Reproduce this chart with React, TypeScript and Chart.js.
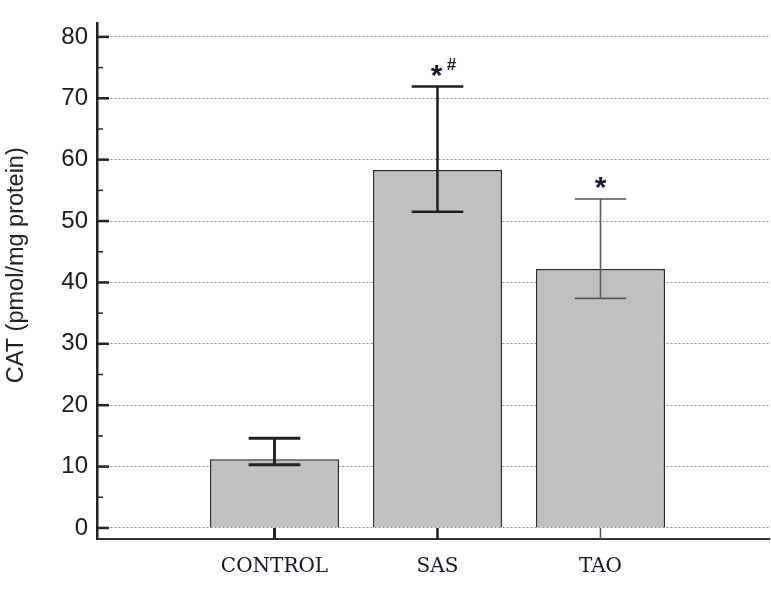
import React, { useEffect, useRef } from 'react';
import { Chart, registerables } from 'chart.js';

Chart.register(...registerables);

const categories = ['CONTROL', 'SAS', 'TAO'];
const means = [11.2, 58.3, 42.2];
const upperErr = [14.6, 71.9, 53.6];
const lowerErr = [10.3, 51.5, 37.4];
const markMain = ['', '*', '*'];
const markSup = ['', '#', ''];
const yMajorTicks = [0, 10, 20, 30, 40, 50, 60, 70, 80];
const yMinorTicks = [5, 15, 25, 35, 45, 55, 65, 75];
const yTitle = 'CAT (pmol/mg protein)';

const errColors = ['#222222', '#1e1e1e', '#5a5a5a'];
const errWidths = [3, 2.5, 1.6];

const overlay = {
  id: 'overlay',
  afterDatasetsDraw(chart: any) {
    const { ctx, chartArea, scales } = chart;
    const y = scales.y;
    const meta = chart.getDatasetMeta(0);
    ctx.save();
    meta.data.forEach((bar: any, i: number) => {
      const { x, width } = bar.getProps(['x', 'width'], true);
      const top = y.getPixelForValue(upperErr[i]);
      const bot = y.getPixelForValue(lowerErr[i]);
      const half = width * 0.2;
      ctx.strokeStyle = errColors[i];
      ctx.lineWidth = errWidths[i];
      ctx.setLineDash([]);
      ctx.beginPath();
      ctx.moveTo(x, top);
      ctx.lineTo(x, bot);
      ctx.moveTo(x - half, top);
      ctx.lineTo(x + half, top);
      ctx.moveTo(x - half, bot);
      ctx.lineTo(x + half, bot);
      ctx.stroke();
      // x-axis inward tick
      ctx.beginPath();
      ctx.moveTo(x, chartArea.bottom);
      ctx.lineTo(x, y.getPixelForValue(0));
      ctx.stroke();
      // significance marks
      ctx.fillStyle = '#1c1c2c';
      ctx.textBaseline = 'alphabetic';
      ctx.textAlign = 'center';
      if (markMain[i]) {
        ctx.font = 'bold 30px "Liberation Sans", Arial, sans-serif';
        ctx.fillText(markMain[i], markSup[i] ? x - 1 : x, top - 2);
      }
      if (markSup[i]) {
        ctx.font = 'bold 17px "Liberation Sans", Arial, sans-serif';
        ctx.fillText(markSup[i], x + 14, top - 17);
      }
    });
    ctx.restore();
  },
  afterDraw(chart: any) {
    const { ctx, chartArea, scales } = chart;
    const y = scales.y;
    ctx.save();
    ctx.strokeStyle = '#222222';
    yMajorTicks.forEach((v) => {
      const py = y.getPixelForValue(v);
      ctx.lineWidth = 2.5;
      ctx.beginPath();
      ctx.moveTo(chartArea.left, py);
      ctx.lineTo(chartArea.left + 12, py);
      ctx.stroke();
    });
    yMinorTicks.forEach((v) => {
      const py = y.getPixelForValue(v);
      ctx.lineWidth = 1.5;
      ctx.beginPath();
      ctx.moveTo(chartArea.left, py);
      ctx.lineTo(chartArea.left + 6, py);
      ctx.stroke();
    });
    // y-axis title
    ctx.translate(17, (chartArea.top + chartArea.bottom) / 2 - 16);
    ctx.rotate(-Math.PI / 2);
    ctx.fillStyle = '#222222';
    ctx.font = '23.5px "Liberation Sans", Arial, sans-serif';
    ctx.textAlign = 'center';
    ctx.textBaseline = 'middle';
    ctx.fillText(yTitle, 0, 0);
    ctx.restore();
  },
};

export default function App() {
  const ref = useRef<HTMLCanvasElement | null>(null);
  useEffect(() => {
    if (!ref.current) return;
    const chart = new Chart(ref.current, {
      type: 'bar',
      data: {
        datasets: [
          {
            data: means.map((v, i) => ({ x: i, y: v })),
            backgroundColor: '#c0c0c0',
            borderColor: '#2a2a2a',
            borderWidth: 1.5,
            barPercentage: 0.9,
            categoryPercentage: 0.88,
          },
        ],
      },
      options: {
        responsive: false,
        animation: false,
        layout: { padding: { top: 10, right: 2, left: 0, bottom: 0 } },
        plugins: { legend: { display: false }, tooltip: { enabled: false } },
        scales: {
          x: {
            type: 'linear',
            offset: false,
            min: -1.089,
            max: 3.034,
            afterBuildTicks: (s: any) => {
              s.ticks = categories.map((_, i) => ({ value: i }));
            },
            afterFit: (s: any) => {
              s.height = 63;
            },
            grid: { display: false, drawTicks: false, offset: false },
            border: { display: true, color: '#333333', width: 2 },
            ticks: {
              padding: 16,
              maxRotation: 0,
              autoSkip: false,
              color: '#151520',
              font: { family: '"DejaVu Serif", serif', size: 20 },
              callback: (v: any) => categories[v] ?? '',
            },
          },
          y: {
            type: 'linear',
            min: -1.8,
            max: 82.2,
            afterBuildTicks: (s: any) => {
              s.ticks = yMajorTicks.map((v) => ({ value: v }));
            },
            afterFit: (s: any) => {
              s.width = 97;
            },
            grid: {
              drawTicks: false,
              color: '#8a8a8a',
              lineWidth: 1,
            },
            border: { display: true, color: '#222222', width: 2.5, dash: [2, 2] },
            ticks: {
              padding: 9,
              color: '#1a1a1a',
              font: { family: '"Liberation Sans", Arial, sans-serif', size: 24 },
              callback: (v: any) => String(v),
            },
          },
        },
      },
      plugins: [overlay],
    });
    return () => chart.destroy();
  }, []);
  return (
    <div style={{ position: 'absolute', left: 0, top: 0, width: 771, height: 602, background: '#fff' }}>
      <canvas ref={ref} width={771} height={602} style={{ display: 'block' }} />
    </div>
  );
}
